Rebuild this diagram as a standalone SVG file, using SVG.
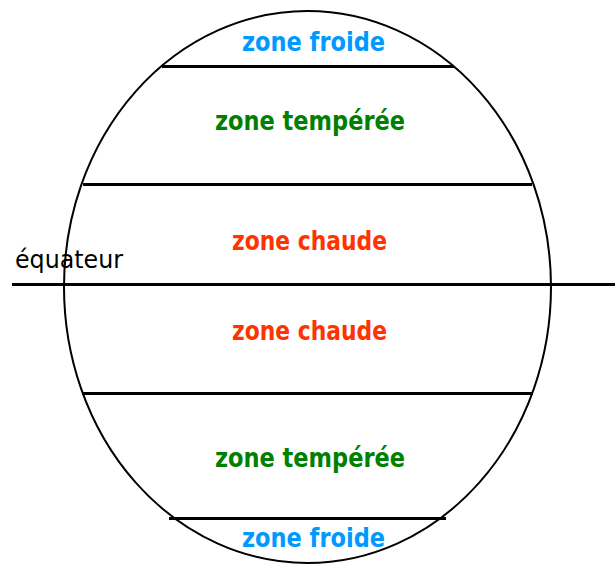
<svg xmlns="http://www.w3.org/2000/svg" width="616" height="565" viewBox="0 0 616 565">
<style>
.zone{font-family:"DejaVu Sans","Liberation Sans",sans-serif;font-weight:bold;font-size:26px;text-anchor:start}
.cold{fill:#0099ff}
.temp{fill:#008000}
.hot{fill:#ff3300}
.ln{stroke:#000;stroke-width:3;fill:none}
</style>
<rect width="616" height="565" fill="#fff"/>
<g id="globe">
<ellipse cx="307.5" cy="287" rx="243.5" ry="276" fill="none" stroke="#000" stroke-width="2"/>
</g>
<g id="connectors">
<line class="ln" x1="162" y1="66.5" x2="454" y2="66.5"/>
<line class="ln" x1="83" y1="184.5" x2="532" y2="184.5"/>
<line class="ln" x1="12" y1="284.5" x2="615" y2="284.5"/>
<line class="ln" x1="82" y1="393.5" x2="533" y2="393.5"/>
<line class="ln" x1="169" y1="518.5" x2="446" y2="518.5"/>
</g>
<g id="zone-froide-nord"><text class="zone cold" x="242" y="51" textLength="143" lengthAdjust="spacingAndGlyphs">zone froide</text></g>
<g id="zone-temperee-nord"><text class="zone temp" x="215" y="130" textLength="190" lengthAdjust="spacingAndGlyphs">zone tempérée</text></g>
<g id="zone-chaude-nord"><text class="zone hot" x="232" y="250" textLength="155" lengthAdjust="spacingAndGlyphs">zone chaude</text></g>
<g id="equateur"><text x="15" y="268" font-family="DejaVu Sans,sans-serif" font-size="24" fill="#000" textLength="108" lengthAdjust="spacingAndGlyphs">équateur</text></g>
<g id="zone-chaude-sud"><text class="zone hot" x="232" y="340" textLength="155" lengthAdjust="spacingAndGlyphs">zone chaude</text></g>
<g id="zone-temperee-sud"><text class="zone temp" x="215" y="467" textLength="190" lengthAdjust="spacingAndGlyphs">zone tempérée</text></g>
<g id="zone-froide-sud"><text class="zone cold" x="242" y="547" textLength="143" lengthAdjust="spacingAndGlyphs">zone froide</text></g>
</svg>
